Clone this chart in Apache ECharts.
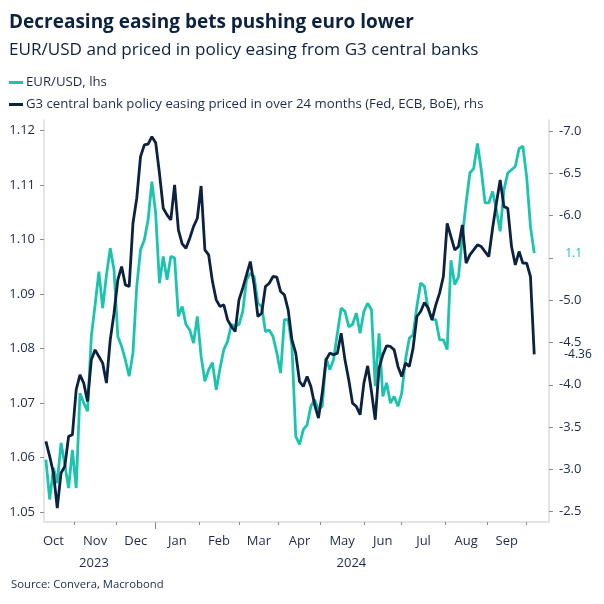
<!DOCTYPE html>
<html><head><meta charset="utf-8">
<script src="https://cdn.jsdelivr.net/npm/echarts@6/dist/echarts.min.js"></script>
<style>html,body{margin:0;padding:0;background:#fff}#c{width:604px;height:604px}</style>
</head><body><div id="c"></div>
<script>
// Business-day index (0 = 2 Oct 2023), one sample every 2 business days from 11 Oct 2023
const startDay = 7, stepDays = 2;
const eurusd = [
1.0596,1.0523,1.0581,1.0553,1.0627,1.0587,1.0544,1.0614,1.0544,1.0718,
1.0700,1.0685,1.0822,1.0880,1.0941,1.0874,1.0935,1.0984,1.0944,1.0822,
1.0804,1.0779,1.0749,1.0792,1.0914,1.0981,1.0999,1.1036,1.1106,1.1048,
1.0920,1.0969,1.0926,1.0969,1.0966,1.0859,1.0877,1.0844,1.0834,1.0810,
1.0859,1.0786,1.0740,1.0761,1.0774,1.0724,1.0764,1.0798,1.0813,1.0844,
1.0841,1.0844,1.0868,1.0926,1.0938,1.0932,1.0883,1.0877,1.0831,1.0834,
1.0822,1.0792,1.0755,1.0853,1.0853,1.0804,1.0639,1.0624,1.0651,1.0660,
1.0694,1.0706,1.0688,1.0694,1.0783,1.0761,1.0780,1.0828,1.0874,1.0868,
1.0840,1.0844,1.0865,1.0828,1.0868,1.0883,1.0871,1.0731,1.0828,1.0712,
1.0737,1.0700,1.0712,1.0694,1.0718,1.0780,1.0819,1.0825,1.0877,1.0920,
1.0914,1.0871,1.0853,1.0853,1.0816,1.0816,1.0798,1.0962,1.0917,1.0932,
1.1005,1.1067,1.1122,1.1130,1.1176,1.1128,1.1067,1.1067,1.1088,1.1054,
1.1015,1.1091,1.1122,1.1128,1.1134,1.1167,1.1171,1.1115,1.1024,1.0975];
const easing = [
-3.331,-3.154,-2.957,-2.543,-2.957,-3.035,-3.390,-3.409,-3.941,-4.118,
-4.020,-3.803,-4.295,-4.413,-4.335,-4.256,-4.020,-4.531,-4.846,-5.240,
-5.398,-5.181,-5.161,-5.909,-6.205,-6.697,-6.835,-6.846,-6.933,-6.862,
-6.500,-6.087,-6.008,-5.949,-6.362,-5.831,-5.665,-5.614,-5.732,-5.870,
-5.969,-6.350,-5.594,-5.535,-5.220,-5.004,-4.925,-4.945,-4.768,-4.689,
-4.630,-5.004,-5.142,-5.299,-5.457,-5.181,-4.807,-4.846,-5.161,-5.201,
-5.280,-5.272,-5.102,-5.063,-4.886,-4.531,-4.374,-4.039,-3.980,-4.098,
-3.980,-3.764,-3.606,-3.902,-4.295,-4.374,-4.354,-4.374,-4.610,-4.295,
-4.059,-3.783,-3.744,-3.646,-4.020,-4.224,-3.921,-3.587,-4.197,-4.354,
-4.461,-4.453,-4.413,-4.217,-4.098,-4.256,-4.217,-4.433,-4.807,-4.866,
-4.972,-4.906,-4.768,-4.945,-5.083,-5.280,-5.909,-5.752,-5.594,-5.634,
-5.890,-5.437,-5.535,-5.594,-5.654,-5.634,-5.575,-5.516,-5.850,-6.146,
-6.420,-6.106,-6.087,-5.634,-5.417,-5.575,-5.437,-5.437,-5.280,-4.360];
// Month start ticks (business-day index) and month label positions (mid-month)
const monthStarts = [22,44,65,88,109,130,152,175,195,218,240,261];
const monthCenters = [11,33,54.5,76.5,98.5,119.5,141,163.5,185,206.5,229,250.5];
const monthLabels = ['Oct','Nov','Dec','Jan','Feb','Mar','Apr','May','Jun','Jul','Aug','Sep'];
const yearCenters = [32.4,168.4];
const yearLabels = ['2023','2024'];
const leftTicks = [1.05,1.06,1.07,1.08,1.09,1.10,1.11,1.12];
const rightTicks = [-7.0,-6.5,-6.0,-5.5,-5.0,-4.5,-4.0,-3.5,-3.0,-2.5];
const names = ['EUR/USD, lhs','G3 central bank policy easing priced in over 24 months (Fed, ECB, BoE), rhs'];

const TEAL = '#1cc4ae', NAVY = '#0b2240', TXT = '#1b2b4b', FONT = 'Open Sans';
const days = eurusd.map((_, i) => startDay + stepDays * i);
const chart = echarts.init(document.getElementById('c'), null, {renderer: 'canvas'});
const axisTxt = {color: TXT, fontSize: 13, fontFamily: FONT};
const monthMap = {}; monthCenters.forEach((v, i) => monthMap[v] = monthLabels[i]);
const yearMap = {}; yearCenters.forEach((v, i) => yearMap[v] = yearLabels[i]);
chart.setOption({
  animation: false,
  backgroundColor: '#fff',
  title: [
    {text: 'Decreasing easing bets pushing euro lower', left: 9, top: 11, padding: 0,
     textStyle: {fontFamily: FONT, fontWeight: 'bold', fontSize: 19, color: NAVY, lineHeight: 24}},
    {text: 'EUR/USD and priced in policy easing from G3 central banks', left: 9, top: 39, padding: 0,
     textStyle: {fontFamily: FONT, fontWeight: 'normal', fontSize: 17.1, color: NAVY, lineHeight: 22}},
    {text: 'Source: Convera, Macrobond', left: 11, top: 577, padding: 0,
     textStyle: {fontFamily: FONT, fontWeight: 'normal', fontSize: 11.3, color: TXT, lineHeight: 16}}
  ],
  legend: {
    orient: 'vertical', left: 9, top: 76, padding: 0, itemWidth: 14, itemHeight: 3, itemGap: 9,
    icon: 'rect', data: names,
    textStyle: {fontFamily: FONT, fontSize: 13.2, color: TXT, padding: [0, 0, 0, -2]}
  },
  grid: {left: 44, right: 55, top: 120, bottom: 82},
  xAxis: [
    {type: 'value', min: 6, max: 272.8,
     axisLine: {show: true, lineStyle: {color: '#dcdcdc', width: 1.5}},
     axisTick: {show: true, customValues: monthStarts, length: 3, lineStyle: {color: '#8a8a8a'}},
     axisLabel: Object.assign({customValues: monthCenters, margin: 13,
       formatter: v => monthMap[v] || ''}, axisTxt),
     splitLine: {show: false}},
    {type: 'value', min: 6, max: 272.8, position: 'bottom',
     axisLine: {show: false},
     axisTick: {show: true, customValues: [65], length: 7, lineStyle: {color: '#8a8a8a'}},
     axisLabel: Object.assign({customValues: yearCenters, margin: 35,
       formatter: v => yearMap[v] || ''}, axisTxt),
     splitLine: {show: false}}
  ],
  yAxis: [
    {type: 'value', min: 1.04817, max: 1.12192, position: 'left',
     axisLine: {show: true, lineStyle: {color: '#dcdcdc', width: 1.5}},
     axisTick: {show: true, customValues: leftTicks, length: 4, lineStyle: {color: '#8a8a8a'}},
     axisLabel: Object.assign({customValues: leftTicks, margin: 9, formatter: v => v.toFixed(2)}, axisTxt),
     splitLine: {show: false}},
    {type: 'value', min: -7.13, max: -2.378, inverse: true, position: 'right',
     axisLine: {show: true, lineStyle: {color: '#dcdcdc', width: 1.5}},
     axisTick: {show: true, customValues: rightTicks, length: 4, lineStyle: {color: '#8a8a8a'}},
     axisLabel: Object.assign({customValues: rightTicks, margin: 10, formatter: v => v.toFixed(1)}, axisTxt),
     splitLine: {show: false}}
  ],
  series: [
    {name: names[0], type: 'line', yAxisIndex: 0, xAxisIndex: 0, showSymbol: false,
     color: TEAL, lineStyle: {width: 2.8, color: TEAL},
     data: days.map((d, i) => [d, eurusd[i]]),
     endLabel: {show: true, distance: 20, formatter: p => p.value[1].toFixed(1),
       color: TEAL, fontFamily: FONT, fontSize: 12, backgroundColor: '#fff', padding: [3, 10, 3, 11]}},
    {name: names[1], type: 'line', yAxisIndex: 1, xAxisIndex: 0, showSymbol: false,
     color: NAVY, lineStyle: {width: 2.8, color: NAVY},
     data: days.map((d, i) => [d, easing[i]]),
     endLabel: {show: true, distance: 22, formatter: p => p.value[1].toFixed(2),
       color: NAVY, fontFamily: FONT, fontSize: 12, backgroundColor: '#fff', padding: [3, 4, 1, 8]}}
  ]
});
</script></body></html>
